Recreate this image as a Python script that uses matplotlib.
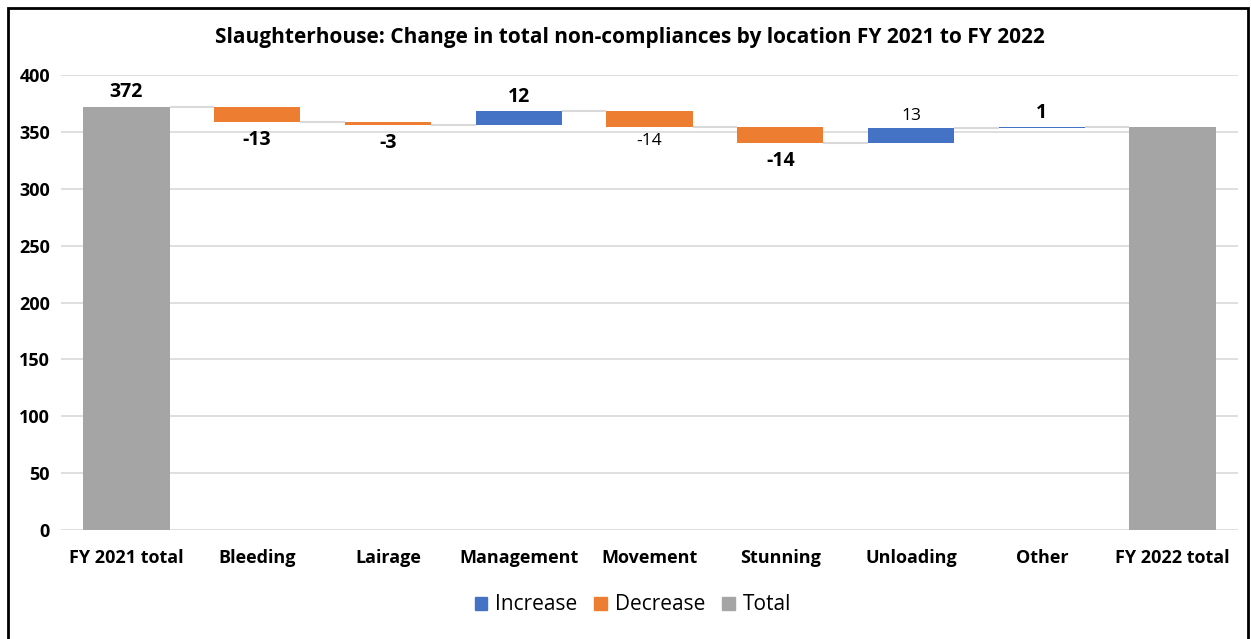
import matplotlib.pyplot as plt
import numpy as np
from matplotlib.patches import Rectangle
from matplotlib.patches import Patch

plt.rcParams['font.family'] = ['Liberation Sans Narrow', 'Open Sans', 'DejaVu Sans']

categories = ["FY 2021 total", "Bleeding", "Lairage", "Management", "Movement",
              "Stunning", "Unloading", "Other", "FY 2022 total"]
start_total = 372
changes = [-13, -3, 12, -14, -14, 13, 1]
label_bold = [True, True, True, True, False, True, False, True, False]

c_inc = '#4472C4'
c_dec = '#ED7D31'
c_tot = '#A5A5A5'
c_grid = '#D9D9D9'

levels = np.concatenate([[start_total], start_total + np.cumsum(changes)])
end_total = levels[-1]

fig = plt.figure(figsize=(12.51, 6.39), dpi=100)
ax = fig.add_axes([61 / 1251, 1 - 530 / 639, (1238 - 61) / 1251, 455 / 639])

x = np.arange(len(categories))
width = 0.66

# totals
ax.bar([0, 8], [start_total, end_total], width=width, color=c_tot, zorder=3)
# changes
for i, d in enumerate(changes):
    bottom = levels[i] if d > 0 else levels[i + 1]
    ax.bar(i + 1, abs(d), bottom=bottom, width=width,
           color=c_inc if d > 0 else c_dec, zorder=3)

# connectors
for i in range(len(categories) - 1):
    ax.hlines(levels[i], i + width / 2, i + 1 - width / 2, color=c_grid, lw=1.5, zorder=2)

# labels
ax.text(0, start_total + 4, str(start_total), ha='center', va='bottom',
        fontsize=14, fontweight='bold')
for i, d in enumerate(changes):
    bold = label_bold[i + 1]
    fs = 14 if bold else 12.5
    if d > 0:
        ax.text(i + 1, levels[i + 1] + 4, str(d), ha='center', va='bottom',
                fontsize=fs, fontweight='bold' if bold else 'normal')
    else:
        off = 7 if bold else 5
        ax.text(i + 1, levels[i + 1] - off, str(d), ha='center', va='top',
                fontsize=fs, fontweight='bold' if bold else 'normal')

ax.set_xlim(-0.5, 8.5)
ax.set_ylim(0, 400)
ax.set_yticks(np.arange(0, 401, 50))
ax.set_xticks(x)
ax.set_xticklabels(categories, fontsize=13, fontweight='bold')
for lab in ax.get_yticklabels():
    lab.set_fontweight('bold')
    lab.set_fontsize(13)
ax.tick_params(length=0)
ax.tick_params(axis='y', pad=8)
ax.tick_params(axis='x', pad=14)
ax.yaxis.grid(True, color=c_grid, lw=1.2, zorder=0)
ax.set_axisbelow(True)
for s in ax.spines.values():
    s.set_visible(False)

fig.text(630 / 1251, 1 - 38 / 639, "Slaughterhouse: Change in total non-compliances by location FY 2021 to FY 2022",
         ha='center', va='center', fontsize=15, fontweight='bold')

handles = [Patch(color=c_inc, label='Increase'), Patch(color=c_dec, label='Decrease'),
           Patch(color=c_tot, label='Total')]
fig.legend(handles=handles, loc='center', bbox_to_anchor=(633 / 1251, 1 - 605 / 639), ncol=3,
           frameon=False, fontsize=15, handlelength=0.6, handleheight=0.6,
           handletextpad=0.4, columnspacing=0.8)

fig.patches.append(Rectangle((8 / 1251, -0.05), (1248 - 8) / 1251, 1 - 8 / 639 + 0.05,
                             transform=fig.transFigure, fill=False, ec='black', lw=2))

fig.savefig('out.png', dpi=100)
